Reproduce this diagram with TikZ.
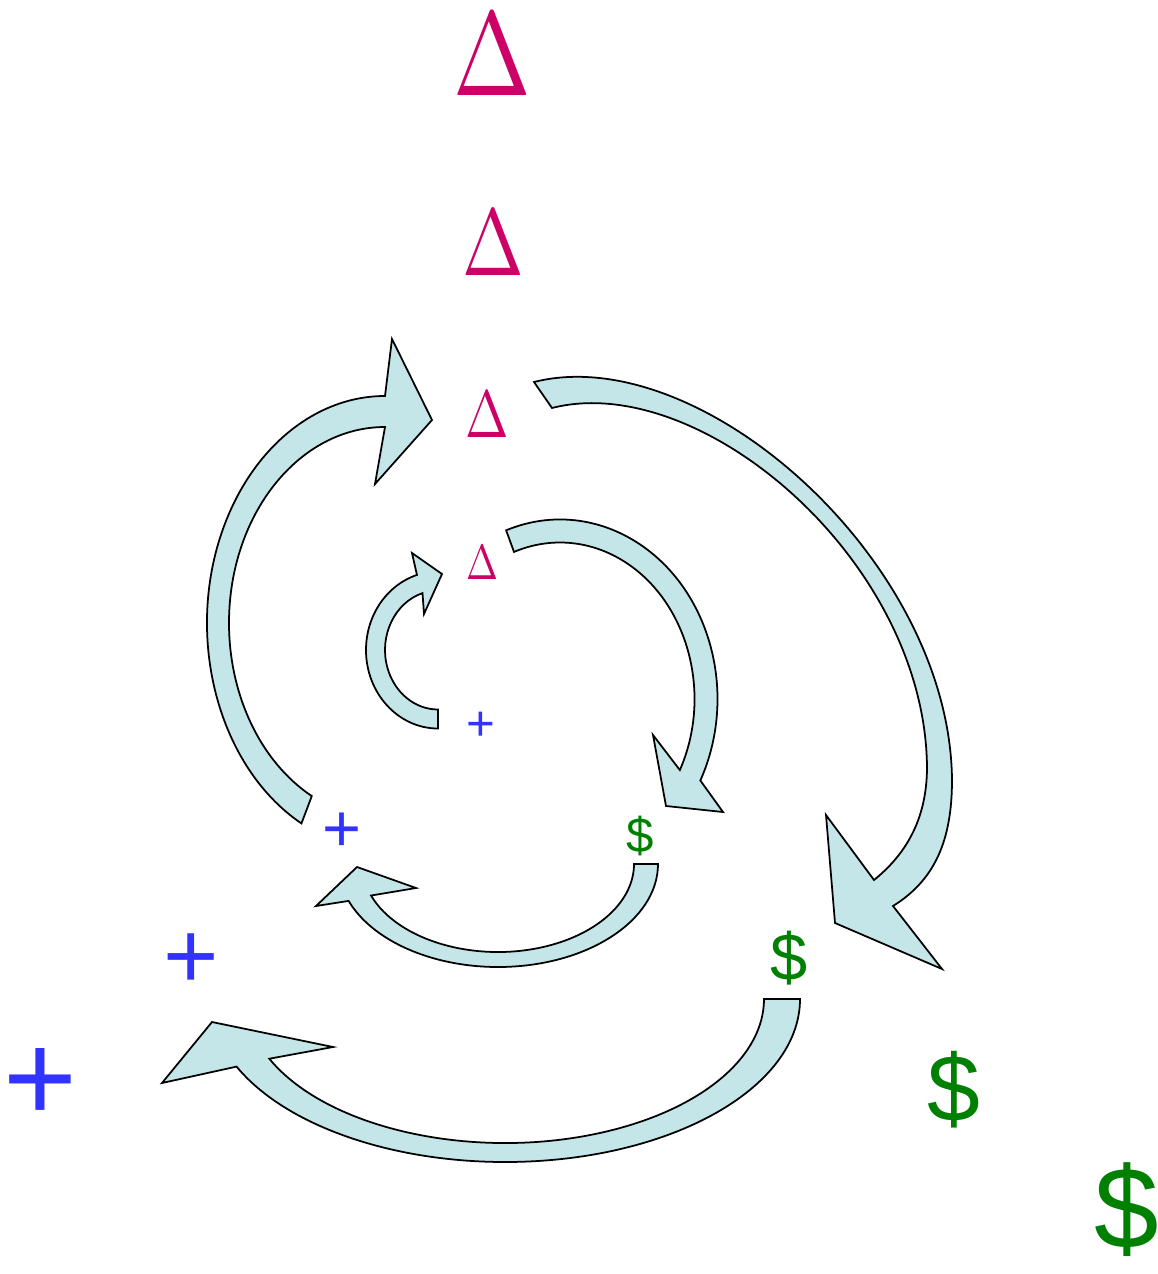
\documentclass[tikz,border=0pt]{standalone}
\usepackage[no-math]{fontspec}
\usepackage{tikz}
\usetikzlibrary{calc}

\newfontfamily\symbolfont{Liberation Sans}
\newcommand{\symsize}[1]{\fontsize{#1}{#1}\selectfont}
\newcommand{\bigdelta}[1]{\scalebox{\fpeval{0.78*#1}}[#1]{$\Delta$}}

\definecolor{deltacol}{RGB}{204,0,102}
\definecolor{pluscol}{RGB}{51,51,255}
\definecolor{dollarcol}{RGB}{0,128,0}
\definecolor{arrowfill}{RGB}{196,230,232}

\begin{document}
\begin{tikzpicture}[
    x=0.02cm, y=0.02cm,
    delta/.style={text=deltacol, inner sep=0pt},
    plus/.style={text=pluscol, inner sep=0pt, font=\symbolfont},
    dollar/.style={text=dollarcol, inner sep=0pt, font=\symbolfont},
    flowarrow/.style={draw=black, fill=arrowfill, line width=1pt, line join=miter}
]
\useasboundingbox (0,0) rectangle (1158,-1274);

% -- symbols, growing outwards --
\node[delta] (delta4) at (492,-55) {\bigdelta{6.8}};
\node[delta] (delta3) at (493,-243) {\bigdelta{5.4}};
\node[delta] (delta2) at (487,-415) {\bigdelta{3.8}};
\node[delta] (delta1) at (482,-563) {\bigdelta{2.8}};

\node[plus] (plus1) at (481,-726) {\symsize{28}+};
\node[plus] (plus2) at (342,-832) {\symsize{38}+};
\node[plus] (plus3) at (191,-961) {\symsize{54}+};
\node[plus] (plus4) at (40,-1085) {\symsize{72}+};

\node[dollar] (dollar1) at (640,-836) {\symsize{28}\$};
\node[dollar] (dollar2) at (789,-958) {\symsize{38}\$};
\node[dollar] (dollar3) at (954,-1090) {\symsize{54}\$};
\node[dollar] (dollar4) at (1127,-1210) {\symsize{66}\$};

% -- inner loop --
\draw[flowarrow] ($(438,-650)+(270:72 and 78.5)$)
    arc[start angle=270, end angle=107, x radius=72, y radius=78.5]
    -- (412,-553) -- (442,-574) -- (424,-614)
    -- ($(438,-650)+(107:53 and 59.5)$)
    arc[start angle=107, end angle=270, x radius=53, y radius=59.5] -- cycle;

\draw[flowarrow] ($(560,-699)+(110:157.5 and 179.5)$)
    arc[start angle=110, end angle=-27, x radius=157.5, y radius=179.5]
    -- (723,-812) -- (666,-806) -- (653,-735)
    -- ($(560,-699)+(-27:134.5 and 156.5)$)
    arc[start angle=-27, end angle=110, x radius=134.5, y radius=156.5] -- cycle;

\draw[flowarrow] ($(498,-864)+(0:160 and 103)$)
    arc[start angle=0, end angle=-159, x radius=160, y radius=103]
    -- (316,-906) -- (357,-867) -- (416,-888)
    -- ($(498,-864)+(-159:136 and 88)$)
    arc[start angle=-159, end angle=0, x radius=136, y radius=88] -- cycle;

% -- outer loop --
\draw[flowarrow] ($(385,-623)+(242:178 and 227)$)
    arc[start angle=242, end angle=90, x radius=178, y radius=227]
    -- (392,-339) -- (432,-420) -- (375,-484)
    -- ($(385,-623)+(90:156 and 196)$)
    arc[start angle=90, end angle=242, x radius=156, y radius=196] -- cycle;

\draw[flowarrow] (534,-382)
    .. controls (700,-340) and (950,-560) .. (952,-780)
    .. controls (952,-840) and (935,-880) .. (893,-906)
    -- (942,-969) -- (835,-923) -- (826,-815) -- (874,-880)
    .. controls (905,-855) and (927,-820) .. (927,-767)
    .. controls (925,-560) and (700,-370) .. (552,-408) -- cycle;

\draw[flowarrow] ($(505,-999)+(0:295 and 163)$)
    arc[start angle=0, end angle=-155.5, x radius=295, y radius=163]
    -- (162,-1083) -- (212,-1022) -- (333,-1047)
    -- ($(505,-999)+(-155.5:259 and 144)$)
    arc[start angle=-155.5, end angle=0, x radius=259, y radius=144] -- cycle;
\end{tikzpicture}
\end{document}
